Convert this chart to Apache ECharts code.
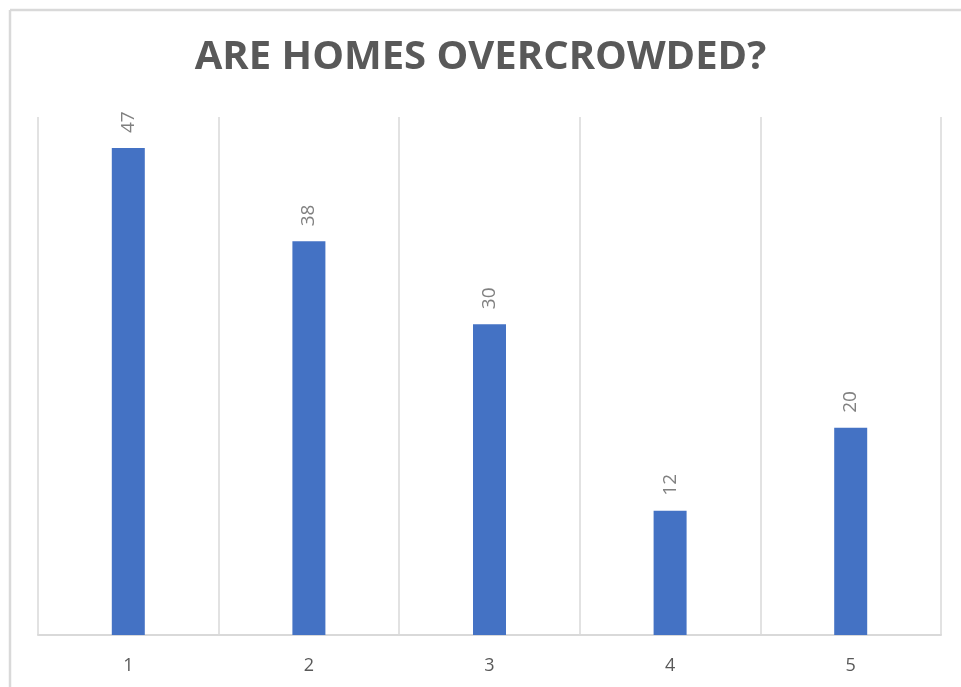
<!DOCTYPE html>
<html><head><meta charset="utf-8">
<script src="https://cdn.jsdelivr.net/npm/echarts@6/dist/echarts.min.js"></script>
<style>html,body{margin:0;padding:0;background:#fff}#c{width:961px;height:687px}</style>
</head><body><div id="c"></div>
<script>
const categories = ['1', '2', '3', '4', '5'];
const values = [47, 38, 30, 12, 20];
const titleText = 'ARE HOMES OVERCROWDED?';

const chart = echarts.init(document.getElementById('c'), null, {renderer: 'canvas'});
chart.setOption({
  animation: false,
  backgroundColor: '#fff',
  title: {
    text: titleText, left: 'center', top: 33,
    textStyle: {fontFamily: 'Open Sans', fontWeight: 'bold', fontSize: 40, color: '#595959'}
  },
  graphic: [
    {type: 'line', shape: {x1: 10, y1: 10, x2: 961, y2: 10},
     style: {stroke: '#d9d9d9', lineWidth: 2.5}, silent: true},
    {type: 'line', shape: {x1: 10, y1: 10, x2: 10, y2: 687},
     style: {stroke: '#d9d9d9', lineWidth: 2.5}, silent: true}
  ],
  grid: {left: 38, right: 20, top: 117, bottom: 52},
  xAxis: {
    type: 'category', data: categories, boundaryGap: true,
    axisLine: {lineStyle: {color: '#d9d9d9', width: 2}},
    axisTick: {show: false},
    axisLabel: {color: '#595959', fontSize: 18, fontFamily: 'Open Sans', margin: 22},
    splitLine: {show: true, lineStyle: {color: '#d9d9d9', width: 1.5}}
  },
  yAxis: {
    type: 'value', min: 0, max: 50, interval: 10,
    show: false, splitLine: {show: false}
  },
  series: [{
    type: 'bar', data: values, barWidth: 33,
    itemStyle: {color: '#4472c4'},
    label: {show: true, position: 'top', rotate: 90, align: 'left', verticalAlign: 'middle',
      distance: 15, color: '#808080', fontSize: 19, fontFamily: 'Open Sans'}
  }]
});
</script></body></html>
